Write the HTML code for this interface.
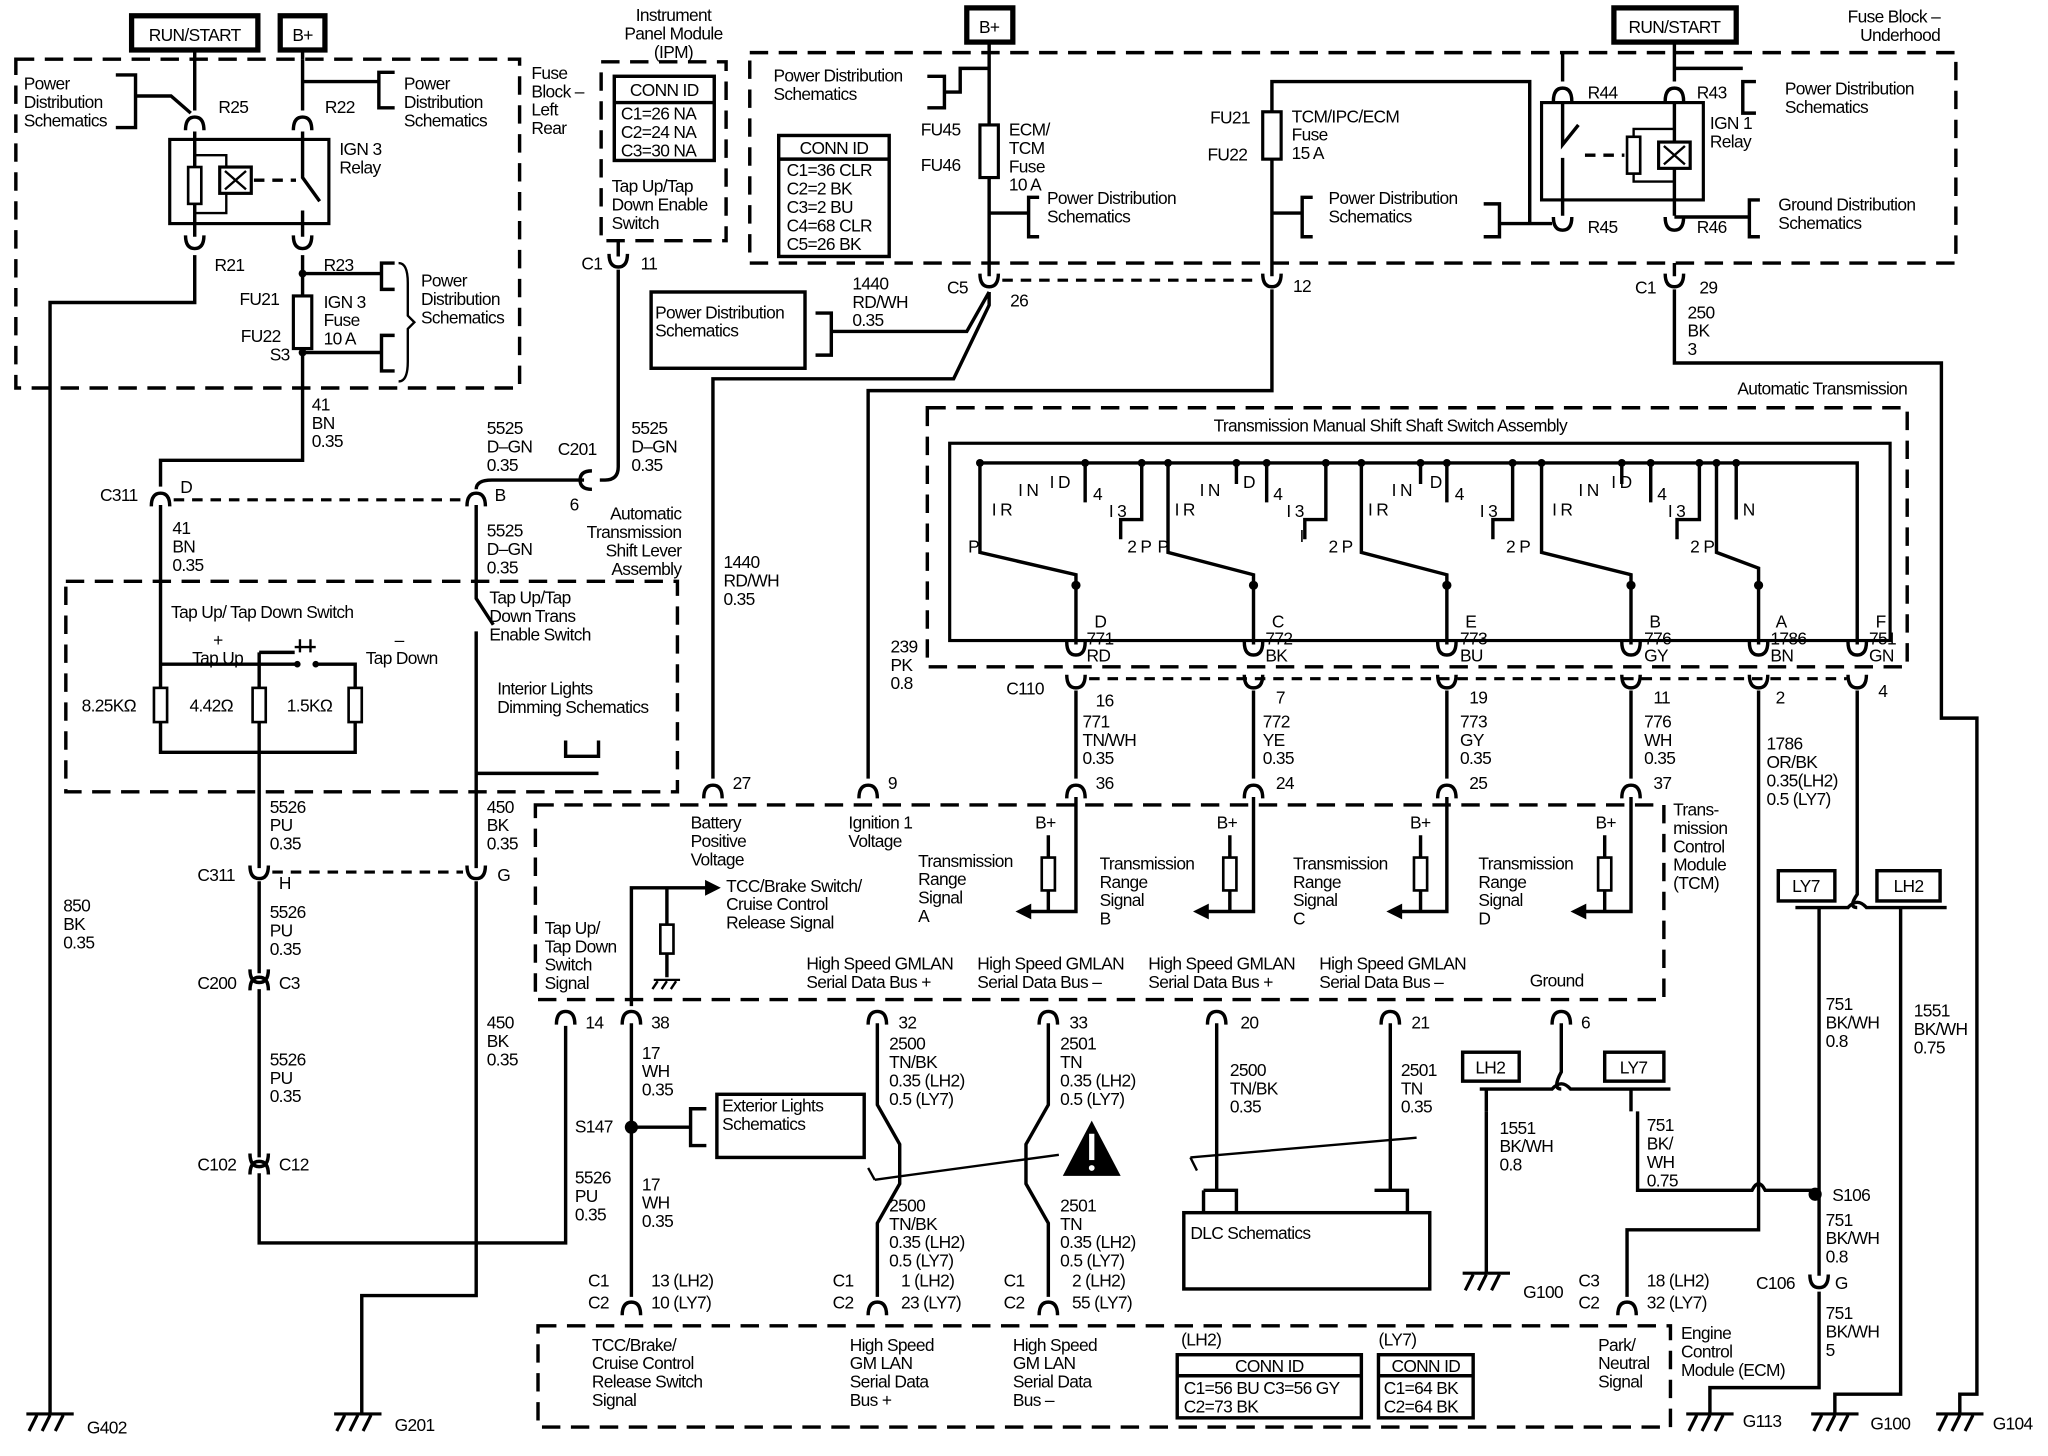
<!DOCTYPE html>
<html><head><meta charset="utf-8"><style>
html,body{margin:0;padding:0;background:#fff}
svg{display:block}
text{font-family:"Liberation Sans",sans-serif;font-size:13.2px;fill:#000;letter-spacing:-0.5px}
.m{text-anchor:middle}.e{text-anchor:end}
.w{fill:none;stroke:#000;stroke-width:2.6}
.th{fill:none;stroke:#000;stroke-width:1.8}
.d{fill:none;stroke:#000;stroke-width:2.6;stroke-dasharray:14 8}
.ds{fill:none;stroke:#000;stroke-width:2.4;stroke-dasharray:8 6}
</style></head><body>
<svg width="2048" height="1456" viewBox="0 0 1557 1107" xmlns="http://www.w3.org/2000/svg">
<defs>
<path id="cu" d="M-7,-7 Q-7,3 0,3 Q7,3 7,-7" fill="none" stroke="#000" stroke-width="2.6"/>
<path id="cn" d="M-7,7 Q-7,-3 0,-3 Q7,-3 7,7" fill="none" stroke="#000" stroke-width="2.6"/>
<g id="gnd" fill="none" stroke="#000" stroke-width="2.4"><path d="M-18,0 H18"/><path d="M-10,1 L-16,13 M0,1 L-6,13 M10,1 L4,13"/></g>
</defs>

<!-- top-left boxes -->
<rect x="100" y="12" width="96" height="26" fill="none" stroke="#000" stroke-width="4"/>
<text x="148" y="31" class="m">RUN/START</text>
<rect x="213" y="12" width="34" height="26" fill="none" stroke="#000" stroke-width="4"/>
<text x="230" y="31" class="m">B+</text>
<path class="w" d="M148,38 V45 M230,38 V45"/>

<!-- Fuse block left rear -->
<rect class="d" x="12" y="45" width="383" height="250"/>
<text x="404" y="60">Fuse</text><text x="404" y="74">Block –</text><text x="404" y="88">Left</text><text x="404" y="102">Rear</text>
<text x="18" y="68">Power</text><text x="18" y="82">Distribution</text><text x="18" y="96">Schematics</text>
<path class="w" d="M88,57 H103 V97 H88 M103,73 H130 L145,86"/>
<path class="w" d="M148,45 V84 M148,100 V180 M148,194 V230 H38 V1075"/>
<use href="#cn" x="148" y="92"/><use href="#cu" x="148" y="186"/>
<text x="166" y="86">R25</text><text x="247" y="86">R22</text>
<path class="w" d="M230,45 V84 M230,62 H288 M300,55 H288 V82 H300"/>
<text x="307" y="68">Power</text><text x="307" y="82">Distribution</text><text x="307" y="96">Schematics</text>
<use href="#cn" x="230" y="92"/>
<rect x="129" y="106" width="121" height="64" fill="none" stroke="#000" stroke-width="2.4"/>
<path class="w" d="M230,100 V135 L243,153 M230,160 V180"/>
<rect x="143" y="127" width="10" height="28" fill="#fff" stroke="#000" stroke-width="2"/>
<path class="th" d="M148,118 H172 V127 M148,162 H172 V147"/>
<rect x="167" y="127" width="24" height="20" fill="#fff" stroke="#000" stroke-width="2.4"/>
<path class="th" d="M171,130 L187,144 M187,130 L171,144"/>
<path class="w" d="M193,137 H225" stroke-dasharray="8 6"/>
<text x="258" y="118">IGN 3</text><text x="258" y="132">Relay</text>
<use href="#cu" x="230" y="186"/>
<text x="163" y="206">R21</text><text x="246" y="206">R23</text>
<path class="w" d="M230,194 V225 M230,265 V350 H122 V370 M230,208 H290 M300,200 H290 V220 H300 M230,268 H290 M300,255 H290 V282 H300"/>
<circle cx="230" cy="208" r="3"/><circle cx="230" cy="268" r="3"/>
<rect x="223" y="225" width="14" height="40" fill="none" stroke="#000" stroke-width="2.4"/>
<path class="th" d="M303,200 Q310,200 310,215 V240 L315,245 L310,250 V275 Q310,290 303,290"/>
<text x="320" y="218">Power</text><text x="320" y="232">Distribution</text><text x="320" y="246">Schematics</text>
<text x="182" y="232">FU21</text><text x="183" y="260">FU22</text><text x="205" y="274">S3</text>
<text x="246" y="234">IGN 3</text><text x="246" y="248">Fuse</text><text x="246" y="262">10 A</text>
<text x="237" y="312">41</text><text x="237" y="326">BN</text><text x="237" y="340">0.35</text>

<!-- C311 D/B -->
<use href="#cn" x="122" y="378"/><use href="#cn" x="362" y="378"/>
<text x="76" y="381">C311</text><text x="137" y="375">D</text><text x="376" y="381">B</text>
<path class="ds" d="M132,380 H352"/>
<text x="131" y="406">41</text><text x="131" y="420">BN</text><text x="131" y="434">0.35</text>

<!-- IPM -->
<text x="512" y="16" class="m">Instrument</text><text x="512" y="30" class="m">Panel Module</text><text x="512" y="44" class="m">(IPM)</text>
<rect class="d" x="457" y="47" width="95" height="136"/>
<rect x="467" y="58" width="76" height="64" fill="none" stroke="#000" stroke-width="2.6"/>
<path class="w" d="M467,78 H543"/>
<text x="505" y="73" class="m">CONN ID</text>
<text x="472" y="91">C1=26 NA</text><text x="472" y="105">C2=24 NA</text><text x="472" y="119">C3=30 NA</text>
<text x="465" y="146">Tap Up/Tap</text><text x="465" y="160">Down Enable</text><text x="465" y="174">Switch</text>
<path class="w" d="M470,183 V195 M470,205 V355 Q470,365 460,365 H456 M444,365 H374 Q362,365 362,372"/>
<use href="#cu" x="470" y="200"/>
<path d="M450,358 Q441,358 441,365 Q441,372 450,372" fill="none" stroke="#000" stroke-width="2.6"/>
<text x="442" y="205">C1</text><text x="487" y="205">11</text>
<text x="370" y="330">5525</text><text x="370" y="344">D–GN</text><text x="370" y="358">0.35</text>
<text x="424" y="346">C201</text><text x="480" y="330">5525</text><text x="480" y="344">D–GN</text><text x="480" y="358">0.35</text>
<text x="433" y="388">6</text>
<text x="518" y="395" class="e">Automatic</text><text x="518" y="409" class="e">Transmission</text><text x="518" y="423" class="e">Shift Lever</text><text x="518" y="437" class="e">Assembly</text>
<text x="370" y="408">5525</text><text x="370" y="422">D–GN</text><text x="370" y="436">0.35</text>

<!-- shift lever assembly -->
<rect class="d" x="50" y="442" width="465" height="160"/>
<text x="130" y="470">Tap Up/ Tap Down Switch</text>
<text x="372" y="459">Tap Up/Tap</text><text x="372" y="473">Down Trans</text><text x="372" y="487">Enable Switch</text>
<path class="w" d="M122,384 V523 M122,549 V572 H270 V549 M270,523 V505 H240 M122,505 H226"/>
<path class="w" d="M197,496 H224 M197,496 V523 M197,549 V660"/>
<path class="th" d="M228,486 V496 M236,486 V496 M224,492 L240,492"/>
<circle cx="226" cy="505" r="2.5"/><circle cx="240" cy="505" r="2.5"/>
<text x="162" y="491">+</text><text x="146" y="505">Tap Up</text><text x="300" y="491">–</text><text x="278" y="505">Tap Down</text>
<rect x="117" y="523" width="10" height="26" fill="#fff" stroke="#000" stroke-width="2"/>
<rect x="192" y="523" width="10" height="26" fill="#fff" stroke="#000" stroke-width="2"/>
<rect x="265" y="523" width="10" height="26" fill="#fff" stroke="#000" stroke-width="2"/>
<text x="62" y="541">8.25K&#937;</text><text x="144" y="541">4.42&#937;</text><text x="218" y="541">1.5K&#937;</text>
<path class="w" d="M362,384 V455 L375,475 M362,480 V660"/>
<path class="w" d="M362,588 H455 M430,563 V575 H455 V563"/>
<text x="378" y="528">Interior Lights</text><text x="378" y="542">Dimming Schematics</text>

<!-- C311 H/G etc -->
<text x="205" y="618">5526</text><text x="205" y="632">PU</text><text x="205" y="646">0.35</text>
<text x="370" y="618">450</text><text x="370" y="632">BK</text><text x="370" y="646">0.35</text>
<use href="#cu" x="197" y="665"/><use href="#cu" x="362" y="665"/>
<text x="150" y="670">C311</text><text x="212" y="676">H</text><text x="378" y="670">G</text>
<path class="ds" d="M207,663 H352"/>
<path class="w" d="M197,670 V740 M197,752 V880 M197,892 V945 H430 V780"/>
<use href="#cn" x="197" y="746"/><use href="#cu" x="197" y="744"/>
<use href="#cn" x="197" y="886"/><use href="#cu" x="197" y="884"/>
<text x="205" y="698">5526</text><text x="205" y="712">PU</text><text x="205" y="726">0.35</text>
<text x="150" y="752">C200</text><text x="212" y="752">C3</text>
<text x="205" y="810">5526</text><text x="205" y="824">PU</text><text x="205" y="838">0.35</text>
<text x="150" y="890">C102</text><text x="212" y="890">C12</text>
<text x="437" y="900">5526</text><text x="437" y="914">PU</text><text x="437" y="928">0.35</text>
<path class="w" d="M362,670 V985 H275 V1075"/>
<text x="370" y="782">450</text><text x="370" y="796">BK</text><text x="370" y="810">0.35</text>
<text x="48" y="693">850</text><text x="48" y="707">BK</text><text x="48" y="721">0.35</text>
<use href="#gnd" x="38" y="1075"/><text x="66" y="1090">G402</text>
<use href="#gnd" x="272" y="1075"/><text x="300" y="1088">G201</text>

<!-- Fuse block underhood -->
<text x="1475" y="17" class="e">Fuse Block –</text><text x="1475" y="31" class="e">Underhood</text>
<rect class="d" x="570" y="40" width="917" height="160"/>
<rect x="735" y="6" width="35" height="26" fill="none" stroke="#000" stroke-width="4"/>
<text x="752" y="25" class="m">B+</text>
<rect x="1227" y="6" width="93" height="26" fill="none" stroke="#000" stroke-width="4"/>
<text x="1273" y="25" class="m">RUN/START</text>
<path class="w" d="M752,32 V95 M752,135 V210 M752,162 H782 M790,150 H782 V180 H790"/>
<rect x="745" y="95" width="14" height="40" fill="none" stroke="#000" stroke-width="2.4"/>
<text x="700" y="103">FU45</text><text x="700" y="130">FU46</text>
<text x="767" y="103">ECM/</text><text x="767" y="117">TCM</text><text x="767" y="131">Fuse</text><text x="767" y="145">10 A</text>
<text x="796" y="155">Power Distribution</text><text x="796" y="169">Schematics</text>
<text x="588" y="62">Power Distribution</text><text x="588" y="76">Schematics</text>
<path class="w" d="M705,58 H718 V82 H705 M718,70 H730 V52 H752"/>
<rect x="592" y="103" width="84" height="92" fill="none" stroke="#000" stroke-width="2.6"/>
<path class="w" d="M592,121 H676"/>
<text x="634" y="117" class="m">CONN ID</text>
<text x="598" y="134">C1=36 CLR</text><text x="598" y="148">C2=2 BK</text><text x="598" y="162">C3=2 BU</text><text x="598" y="176">C4=68 CLR</text><text x="598" y="190">C5=26 BK</text>
<path class="w" d="M967,210 V121 M967,85 V62 H1163 V170 H1180 M967,162 H990 M998,150 H990 V180 H998 M1128,155 H1140 V180 H1128 M1140,170 H1163"/>
<rect x="960" y="85" width="14" height="36" fill="none" stroke="#000" stroke-width="2.4"/>
<text x="920" y="94">FU21</text><text x="918" y="122">FU22</text>
<text x="982" y="93">TCM/IPC/ECM</text><text x="982" y="107">Fuse</text><text x="982" y="121">15 A</text>
<text x="1010" y="155">Power Distribution</text><text x="1010" y="169">Schematics</text>
<!-- IGN1 relay -->
<rect x="1172" y="78" width="123" height="74" fill="none" stroke="#000" stroke-width="2.4"/>
<path class="w" d="M1188,40 V62 M1188,78 V110 L1200,95 M1188,120 V164 M1273,32 V62 M1273,78 V164 M1273,52 H1325 M1335,62 H1325 V86 H1335"/>
<use href="#cn" x="1188" y="70"/><use href="#cn" x="1273" y="70"/>
<use href="#cu" x="1188" y="172"/><use href="#cu" x="1273" y="172"/>
<rect x="1237" y="104" width="10" height="28" fill="#fff" stroke="#000" stroke-width="2"/>
<path class="th" d="M1242,104 V98 H1273 M1242,132 V138 H1273"/>
<rect x="1261" y="108" width="24" height="20" fill="#fff" stroke="#000" stroke-width="2.4"/>
<path class="th" d="M1265,111 L1281,125 M1281,111 L1265,125"/>
<path class="w" d="M1205,118 H1235" stroke-dasharray="8 6"/>
<text x="1207" y="75">R44</text><text x="1290" y="75">R43</text>
<text x="1357" y="72">Power Distribution</text><text x="1357" y="86">Schematics</text>
<text x="1300" y="98">IGN 1</text><text x="1300" y="112">Relay</text>
<text x="1207" y="177">R45</text><text x="1290" y="177">R46</text>
<path class="w" d="M1273,165 H1330 M1338,152 H1330 V180 H1338"/>
<text x="1352" y="160">Ground Distribution</text><text x="1352" y="174">Schematics</text>
<!-- C5 C1 row -->
<use href="#cu" x="752" y="215"/><use href="#cu" x="967" y="215"/><use href="#cu" x="1273" y="215"/>
<path class="ds" d="M762,213 H957"/>
<text x="720" y="223">C5</text><text x="768" y="233">26</text><text x="983" y="222">12</text>
<text x="1243" y="223">C1</text><text x="1292" y="223">29</text>
<text x="1283" y="242">250</text><text x="1283" y="256">BK</text><text x="1283" y="270">3</text>
<path class="w" d="M1273,200 V210 M1273,220 V276 H1476 V546 H1503 V1060 H1490 V1075"/>
<text x="648" y="220">1440</text><text x="648" y="234">RD/WH</text><text x="648" y="248">0.35</text>
<rect x="495" y="222" width="117" height="58" fill="none" stroke="#000" stroke-width="2.6"/>
<text x="498" y="242">Power Distribution</text><text x="498" y="256">Schematics</text>
<path class="w" d="M620,238 H632 V270 H620 M632,252 H735 L752,222 M752,222 V232 L725,288 H542 V592"/>
<text x="550" y="432">1440</text><text x="550" y="446">RD/WH</text><text x="550" y="460">0.35</text>
<path class="w" d="M967,220 V297 H660 V592"/>
<text x="677" y="496">239</text><text x="677" y="510">PK</text><text x="677" y="524">0.8</text>

<!-- Automatic Transmission -->
<text x="1450" y="300" class="e">Automatic Transmission</text>
<rect class="d" x="705" y="310" width="745" height="197"/>
<text x="1057" y="328" class="m">Transmission Manual Shift Shaft Switch Assembly</text>
<rect x="722" y="337" width="715" height="150" fill="none" stroke="#000" stroke-width="2.4"/>
<path class="w" d="M745,352 H1412 V490"/>
<g class="w">
<path d="M745,352 V420 L818,437 V490"/>
<path d="M888,352 V420 L953,437 V490"/>
<path d="M1035,352 V420 L1100,437 V490"/>
<path d="M1172,352 V420 L1240,437 V490"/>
<path d="M1305,352 V420 L1337,432 V490"/>
<path d="M825,352 V382 M940,352 V368 M963,352 V382 M1080,352 V368 M1100,352 V382 M1233,352 V368 M1255,352 V382 M1320,352 V395 M1292,352 V395 H1275 V410 M1150,352 V395 H1135 V410 M1008,352 V395 H992 V410 M868,352 V395 H852 V410"/>
</g>
<g>
<circle cx="745" cy="352" r="3"/><circle cx="825" cy="352" r="3"/><circle cx="868" cy="352" r="3"/><circle cx="888" cy="352" r="3"/><circle cx="940" cy="352" r="3"/><circle cx="963" cy="352" r="3"/><circle cx="1008" cy="352" r="3"/><circle cx="1035" cy="352" r="3"/><circle cx="1080" cy="352" r="3"/><circle cx="1100" cy="352" r="3"/><circle cx="1150" cy="352" r="3"/><circle cx="1172" cy="352" r="3"/><circle cx="1233" cy="352" r="3"/><circle cx="1255" cy="352" r="3"/><circle cx="1292" cy="352" r="3"/><circle cx="1305" cy="352" r="3"/><circle cx="1320" cy="352" r="3"/>
<circle cx="818" cy="445" r="3.5"/><circle cx="953" cy="445" r="3.5"/><circle cx="1100" cy="445" r="3.5"/><circle cx="1240" cy="445" r="3.5"/><circle cx="1337" cy="445" r="3.5"/>
</g>
<g>
<text x="736" y="420">P</text><text x="754" y="392">I R</text><text x="774" y="377">I N</text><text x="798" y="371">I D</text><text x="831" y="380">4</text><text x="843" y="393">I 3</text><text x="857" y="420">2 P</text>
<text x="880" y="420">P</text><text x="893" y="392">I R</text><text x="912" y="377">I N</text><text x="945" y="371">D</text><text x="968" y="380">4</text><text x="978" y="393">I 3</text><text x="988" y="412">I</text><text x="1010" y="420">2 P</text>
<text x="1040" y="392">I R</text><text x="1058" y="377">I N</text><text x="1087" y="371">D</text><text x="1106" y="380">4</text><text x="1125" y="393">I 3</text><text x="1145" y="420">2 P</text>
<text x="1180" y="392">I R</text><text x="1200" y="377">I N</text><text x="1225" y="371">I D</text><text x="1260" y="380">4</text><text x="1268" y="393">I 3</text><text x="1285" y="420">2 P</text>
<text x="1325" y="392">N</text>
</g>
<g>
<use href="#cu" x="818" y="495"/><use href="#cu" x="953" y="495"/><use href="#cu" x="1100" y="495"/><use href="#cu" x="1240" y="495"/><use href="#cu" x="1337" y="495"/><use href="#cu" x="1412" y="495"/>
<use href="#cu" x="818" y="520"/><use href="#cu" x="953" y="520"/><use href="#cu" x="1100" y="520"/><use href="#cu" x="1240" y="520"/><use href="#cu" x="1337" y="520"/><use href="#cu" x="1412" y="520"/>
</g>
<text x="832" y="477">D</text><text x="826" y="490">771</text><text x="826" y="503">RD</text>
<text x="967" y="477">C</text><text x="962" y="490">772</text><text x="962" y="503">BK</text>
<text x="1114" y="477">E</text><text x="1110" y="490">773</text><text x="1110" y="503">BU</text>
<text x="1254" y="477">B</text><text x="1250" y="490">776</text><text x="1250" y="503">GY</text>
<text x="1350" y="477">A</text><text x="1346" y="490">1786</text><text x="1346" y="503">BN</text>
<text x="1426" y="477">F</text><text x="1421" y="490">751</text><text x="1421" y="503">GN</text>
<path class="ds" d="M828,516 H1404"/>
<text x="765" y="528">C110</text>
<text x="833" y="537">16</text><text x="970" y="535">7</text><text x="1117" y="535">19</text><text x="1257" y="535">11</text><text x="1350" y="535">2</text><text x="1428" y="530">4</text>
<path class="w" d="M818,525 V592 M953,525 V592 M1100,525 V592 M1240,525 V592 M1337,525 V935 H1237 V986"/>
<text x="823" y="553">771</text><text x="823" y="567">TN/WH</text><text x="823" y="581">0.35</text>
<text x="960" y="553">772</text><text x="960" y="567">YE</text><text x="960" y="581">0.35</text>
<text x="1110" y="553">773</text><text x="1110" y="567">GY</text><text x="1110" y="581">0.35</text>
<text x="1250" y="553">776</text><text x="1250" y="567">WH</text><text x="1250" y="581">0.35</text>
<text x="1343" y="570">1786</text><text x="1343" y="584">OR/BK</text><text x="1343" y="598">0.35(LH2)</text><text x="1343" y="612">0.5  (LY7)</text>

<!-- TCM -->
<rect class="d" x="407" y="612" width="858" height="148"/>
<g>
<use href="#cn" x="542" y="600"/><use href="#cn" x="660" y="600"/><use href="#cn" x="818" y="600"/><use href="#cn" x="953" y="600"/><use href="#cn" x="1100" y="600"/><use href="#cn" x="1240" y="600"/>
</g>
<text x="557" y="600">27</text><text x="675" y="600">9</text><text x="833" y="600">36</text><text x="970" y="600">24</text><text x="1117" y="600">25</text><text x="1257" y="600">37</text>
<text x="525" y="630">Battery</text><text x="525" y="644">Positive</text><text x="525" y="658">Voltage</text>
<text x="645" y="630">Ignition 1</text><text x="645" y="644">Voltage</text>
<g class="w">
<path d="M818,606 V693 H780 M797,635 V652 M797,677 V693"/>
<path d="M953,606 V693 H915 M935,635 V652 M935,677 V693"/>
<path d="M1100,606 V693 H1062 M1080,635 V652 M1080,677 V693"/>
<path d="M1240,606 V693 H1202 M1220,635 V652 M1220,677 V693"/>
</g>
<path d="M772,693 L784,687 V699 Z M907,693 L919,687 V699 Z M1054,693 L1066,687 V699 Z M1194,693 L1206,687 V699 Z"/>
<rect x="792" y="652" width="10" height="25" fill="#fff" stroke="#000" stroke-width="2"/>
<rect x="930" y="652" width="10" height="25" fill="#fff" stroke="#000" stroke-width="2"/>
<rect x="1075" y="652" width="10" height="25" fill="#fff" stroke="#000" stroke-width="2"/>
<rect x="1215" y="652" width="10" height="25" fill="#fff" stroke="#000" stroke-width="2"/>
<text x="787" y="630">B+</text><text x="925" y="630">B+</text><text x="1072" y="630">B+</text><text x="1213" y="630">B+</text>
<text x="698" y="659">Transmission</text><text x="698" y="673">Range</text><text x="698" y="687">Signal</text><text x="698" y="701">A</text>
<text x="836" y="661">Transmission</text><text x="836" y="675">Range</text><text x="836" y="689">Signal</text><text x="836" y="703">B</text>
<text x="983" y="661">Transmission</text><text x="983" y="675">Range</text><text x="983" y="689">Signal</text><text x="983" y="703">C</text>
<text x="1124" y="661">Transmission</text><text x="1124" y="675">Range</text><text x="1124" y="689">Signal</text><text x="1124" y="703">D</text>
<text x="1272" y="620">Trans-</text><text x="1272" y="634">mission</text><text x="1272" y="648">Control</text><text x="1272" y="662">Module</text><text x="1272" y="676">(TCM)</text>
<text x="414" y="710">Tap Up/</text><text x="414" y="724">Tap Down</text><text x="414" y="738">Switch</text><text x="414" y="752">Signal</text>
<path class="w" d="M480,765 V675 H540 M507,675 V703 M507,725 V743"/>
<path d="M548,675 L536,669 V681 Z"/>
<rect x="502" y="703" width="10" height="22" fill="#fff" stroke="#000" stroke-width="2"/>
<path class="th" d="M497,745 H517 M500,746 L496,752 M507,746 L503,752 M514,746 L510,752"/>
<text x="552" y="678">TCC/Brake Switch/</text><text x="552" y="692">Cruise Control</text><text x="552" y="706">Release Signal</text>
<text x="613" y="737">High Speed GMLAN</text><text x="613" y="751">Serial Data Bus +</text>
<text x="743" y="737">High Speed GMLAN</text><text x="743" y="751">Serial Data Bus –</text>
<text x="873" y="737">High Speed GMLAN</text><text x="873" y="751">Serial Data Bus +</text>
<text x="1003" y="737">High Speed GMLAN</text><text x="1003" y="751">Serial Data Bus –</text>
<text x="1163" y="750">Ground</text>
<g>
<use href="#cn" x="430" y="772"/><use href="#cn" x="480" y="772"/><use href="#cn" x="667" y="772"/><use href="#cn" x="797" y="772"/><use href="#cn" x="925" y="772"/><use href="#cn" x="1057" y="772"/><use href="#cn" x="1187" y="772"/>
</g>
<text x="445" y="782">14</text><text x="495" y="782">38</text><text x="683" y="782">32</text><text x="813" y="782">33</text><text x="943" y="782">20</text><text x="1073" y="782">21</text><text x="1202" y="782">6</text>

<!-- lower left area -->
<path class="w" d="M480,778 V986 M480,857 H525 M537,843 H525 V871 H537"/>
<circle cx="480" cy="857" r="5"/>
<text x="437" y="861">S147</text>
<rect x="545" y="832" width="112" height="48" fill="none" stroke="#000" stroke-width="2.6"/>
<text x="549" y="845">Exterior Lights</text><text x="549" y="859">Schematics</text>
<text x="488" y="805">17</text><text x="488" y="819">WH</text><text x="488" y="833">0.35</text>
<text x="488" y="905">17</text><text x="488" y="919">WH</text><text x="488" y="933">0.35</text>
<path class="w" d="M667,778 V840 L684,870 V900 L667,930 V986 M797,778 V840 L780,870 V900 L797,930 V986"/>
<path class="th" d="M665,897 L805,878 M665,897 L660,888"/>
<path d="M830,852 L808,894 H852 Z" fill="#000"/>
<path d="M830,862 V882" stroke="#fff" stroke-width="4"/><circle cx="830" cy="888" r="2.2" fill="#fff"/>
<text x="676" y="798">2500</text><text x="676" y="812">TN/BK</text><text x="676" y="826">0.35  (LH2)</text><text x="676" y="840">0.5   (LY7)</text>
<text x="806" y="798">2501</text><text x="806" y="812">TN</text><text x="806" y="826">0.35  (LH2)</text><text x="806" y="840">0.5   (LY7)</text>
<text x="676" y="921">2500</text><text x="676" y="935">TN/BK</text><text x="676" y="949">0.35  (LH2)</text><text x="676" y="963">0.5   (LY7)</text>
<text x="806" y="921">2501</text><text x="806" y="935">TN</text><text x="806" y="949">0.35  (LH2)</text><text x="806" y="963">0.5   (LY7)</text>
<path class="w" d="M925,778 V905 M1057,778 V905 M915,905 V922 M915,905 H940 V922 M1045,905 H1070 V922"/>
<path class="th" d="M905,880 L1077,865 M905,880 L910,890"/>
<rect x="900" y="922" width="187" height="58" fill="none" stroke="#000" stroke-width="2.6"/>
<text x="905" y="942">DLC Schematics</text>
<text x="935" y="818">2500</text><text x="935" y="832">TN/BK</text><text x="935" y="846">0.35</text>
<text x="1065" y="818">2501</text><text x="1065" y="832">TN</text><text x="1065" y="846">0.35</text>

<!-- ground LH2/LY7 -->
<path class="w" d="M1187,778 V815 Q1180,828 1187,828 M1187,828 V828"/>
<path class="w" d="M1125,828 H1180 Q1187,820 1194,828 H1270 M1130,828 V845 M1240,828 V845"/>
<rect x="1112" y="800" width="43" height="22" fill="none" stroke="#000" stroke-width="2.6"/>
<rect x="1220" y="800" width="45" height="22" fill="none" stroke="#000" stroke-width="2.6"/>
<text x="1133" y="816" class="m">LH2</text><text x="1242" y="816" class="m">LY7</text>
<path class="w" d="M1130,845 V968 M1245,845 V905 H1332 Q1337,895 1342,905 H1380"/>
<use href="#gnd" x="1130" y="968"/><text x="1158" y="987">G100</text>
<text x="1140" y="862">1551</text><text x="1140" y="876">BK/WH</text><text x="1140" y="890">0.8</text>
<text x="1252" y="860">751</text><text x="1252" y="874">BK/</text><text x="1252" y="888">WH</text><text x="1252" y="902">0.75</text>

<!-- right side LY7/LH2 -->
<rect x="1352" y="662" width="43" height="23" fill="none" stroke="#000" stroke-width="2.6"/>
<rect x="1427" y="662" width="48" height="23" fill="none" stroke="#000" stroke-width="2.6"/>
<text x="1373" y="678" class="m">LY7</text><text x="1451" y="678" class="m">LH2</text>
<path class="w" d="M1412,525 V680 Q1405,690 1412,690 M1365,690 H1405 Q1412,682 1419,690 H1480 M1383,690 V970 M1445,690 V1060 H1395 V1075 M1383,982 V1055 H1300 V1075"/>
<circle cx="1380" cy="908" r="5"/>
<text x="1393" y="913">S106</text>
<use href="#cu" x="1383" y="976"/>
<text x="1335" y="980">C106</text><text x="1395" y="980">G</text>
<text x="1388" y="768">751</text><text x="1388" y="782">BK/WH</text><text x="1388" y="796">0.8</text>
<text x="1455" y="773">1551</text><text x="1455" y="787">BK/WH</text><text x="1455" y="801">0.75</text>
<text x="1388" y="932">751</text><text x="1388" y="946">BK/WH</text><text x="1388" y="960">0.8</text>
<text x="1388" y="1003">751</text><text x="1388" y="1017">BK/WH</text><text x="1388" y="1031">5</text>
<use href="#gnd" x="1300" y="1075"/><text x="1325" y="1085">G113</text>
<use href="#gnd" x="1395" y="1075"/><text x="1422" y="1087">G100</text>
<use href="#gnd" x="1490" y="1075"/><text x="1515" y="1087">G104</text>

<!-- ECM -->
<rect class="d" x="409" y="1008" width="861" height="77"/>
<g>
<use href="#cn" x="480" y="993"/><use href="#cn" x="667" y="993"/><use href="#cn" x="797" y="993"/><use href="#cn" x="1237" y="993"/>
</g>
<text x="447" y="978">C1</text><text x="447" y="995">C2</text><text x="495" y="978">13  (LH2)</text><text x="495" y="995">10  (LY7)</text>
<text x="633" y="978">C1</text><text x="633" y="995">C2</text><text x="685" y="978">1   (LH2)</text><text x="685" y="995">23  (LY7)</text>
<text x="763" y="978">C1</text><text x="763" y="995">C2</text><text x="815" y="978">2   (LH2)</text><text x="815" y="995">55  (LY7)</text>
<text x="1200" y="978">C3</text><text x="1200" y="995">C2</text><text x="1252" y="978">18  (LH2)</text><text x="1252" y="995">32  (LY7)</text>
<text x="450" y="1027">TCC/Brake/</text><text x="450" y="1041">Cruise Control</text><text x="450" y="1055">Release Switch</text><text x="450" y="1069">Signal</text>
<text x="646" y="1027">High Speed</text><text x="646" y="1041">GM LAN</text><text x="646" y="1055">Serial Data</text><text x="646" y="1069">Bus +</text>
<text x="770" y="1027">High Speed</text><text x="770" y="1041">GM LAN</text><text x="770" y="1055">Serial Data</text><text x="770" y="1069">Bus –</text>
<text x="898" y="1023">(LH2)</text>
<rect x="895" y="1030" width="140" height="48" fill="none" stroke="#000" stroke-width="2.6"/>
<path class="w" d="M895,1046 H1035"/>
<text x="965" y="1043" class="m">CONN ID</text>
<text x="900" y="1060">C1=56 BU C3=56 GY</text><text x="900" y="1074">C2=73 BK</text>
<text x="1048" y="1023">(LY7)</text>
<rect x="1048" y="1030" width="72" height="48" fill="none" stroke="#000" stroke-width="2.6"/>
<path class="w" d="M1048,1046 H1120"/>
<text x="1084" y="1043" class="m">CONN ID</text>
<text x="1052" y="1060">C1=64 BK</text><text x="1052" y="1074">C2=64 BK</text>
<text x="1215" y="1027">Park/</text><text x="1215" y="1041">Neutral</text><text x="1215" y="1055">Signal</text>
<text x="1278" y="1018">Engine</text><text x="1278" y="1032">Control</text><text x="1278" y="1046">Module (ECM)</text>
</svg>
</body></html>
